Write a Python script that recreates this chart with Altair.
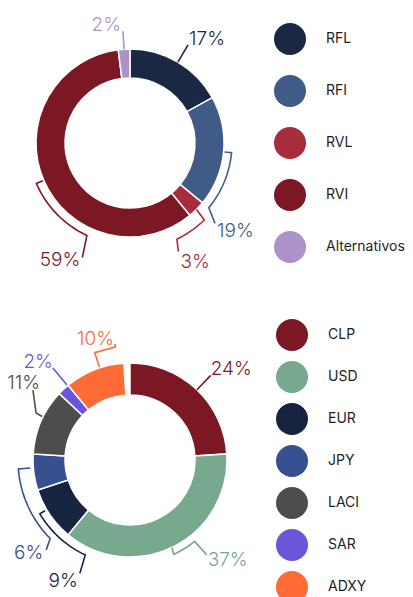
import math
import altair as alt
import pandas as pd

# ---------------- data ----------------
top_categories = ["RFL", "RFI", "RVL", "RVI", "Alternativos"]
top_values = [17, 19, 3, 59, 2]
top_colors = ["#1b2843", "#405b88", "#a72d3b", "#7b1823", "#ab92c8"]

bottom_categories = ["CLP", "USD", "EUR", "JPY", "LACI", "SAR", "ADXY"]
bottom_values = [24, 37, 9, 6, 11, 2, 10]
bottom_colors = ["#7b1823", "#76a98d", "#16243f", "#37508f", "#4d4d4d", "#6b55d8", "#ff6b37"]

# ---------------- layout ----------------
W, H, M = 397, 589, 8
FONT = "Inter"

TOP = dict(cx=130, cy=143, R=94, r=65,
           leg_x=290, leg_tx=326, leg_y0=39, leg_step=52, leg_fs=14)
BOT = dict(cx=130, cy=460, R=97, r=65,
           leg_x=292, leg_tx=328, leg_y0=335, leg_step=42, leg_fs=14)

# leader paths: list of (angle offset from mid-angle [deg], radius offset from R)
# plus label anchor style (align, baseline, dx, dy)
TOP_LEADERS = {
    "RFL": ([(0, 0), (0, 20)], "left", "alphabetic", 1, 0),
    "RFI": ([(0, 1), (0, 8), (34, 8), (38, 23)], "left", "top", 2, -1),
    "RVL": ([(0, 0), (1, 13), (19, 13), (21, 25)], "left", "top", 2, 1),
    "RVI": ([(0, 1), (0, 8), (-41.6, 8), (-44, 30)], "right", "middle", -2, 3),
    "Alternativos": ([(0, 0), (0, 18)], "right", "alphabetic", -2, 0),
}
BOT_LEADERS = {
    "CLP": ([(0, 0), (0, 20)], "left", "alphabetic", 0, 0),
    "USD": ([(0, 0), (0.5, 7), (-13, 7), (-13.5, 25)], "left", "middle", 1, 5),
    "EUR": ([(1, 2), (1, 8), (-33, 8), (-34.3, 27)], "right", "top", -2, -1),
    "JPY": ([(0, 3), (0, 15), (-40, 15), (-42.5, 26)], "right", "middle", -3, 3),
    "LACI": ([(0, 1), (0.2, 8), (9.4, 22.6)], "right", "alphabetic", 7, -1),
    "SAR": ([(0, 1), (0, 23)], "right", "alphabetic", 0, 0),
    "ADXY": ([(0, 1), (0, 16), (10.8, 17), (10.8, 20)], "right", "alphabetic", -1, 1),
}


def polar(cfg, ang, rad):
    a = math.radians(ang)
    return cfg["cx"] + rad * math.sin(a), cfg["cy"] - rad * math.cos(a)


def build(cats, vals, cols, cfg, leaders, key):
    total = float(sum(vals))
    arcs = pd.DataFrame({"cat": cats, "value": vals, "color": cols, "idx": range(len(cats))})
    line_rows, label_rows = [], []
    cum = 0.0
    for i, (c, v, col) in enumerate(zip(cats, vals, cols)):
        start = cum / total * 360
        cum += v
        end = cum / total * 360
        mid = (start + end) / 2
        pts, align, base, dx, dy = leaders[c]
        seq = []
        for j, (da, dr) in enumerate(pts):
            if j > 0 and dr == pts[j - 1][1] and da != pts[j - 1][0]:
                a0 = pts[j - 1][0]
                n = max(2, int(abs(da - a0) / 2))
                for k in range(1, n):
                    seq.append((a0 + (da - a0) * k / n, dr))
            seq.append((da, dr))
        for k, (da, dr) in enumerate(seq):
            x, y = polar(cfg, mid + da, cfg["R"] + dr)
            line_rows.append({"id": f"{key}-{c}", "k": k, "x": x, "y": y, "color": col})
        ex, ey = polar(cfg, mid + pts[-1][0], cfg["R"] + pts[-1][1])
        label_rows.append({"x": ex + dx, "y": ey + dy, "text": f"{v}%", "color": col,
                           "align": align, "base": base})
    legend = pd.DataFrame({
        "cat": cats, "color": cols,
        "x": [cfg["leg_x"]] * len(cats),
        "tx": [cfg["leg_tx"]] * len(cats),
        "y": [cfg["leg_y0"] + cfg["leg_step"] * i for i in range(len(cats))],
    })
    return arcs, pd.DataFrame(line_rows), pd.DataFrame(label_rows), legend


xs = alt.Scale(domain=[M, M + W], nice=False, zero=False)
ys = alt.Scale(domain=[M, M + H], reverse=True, nice=False, zero=False)

layers = []
for cats, vals, cols, cfg, leaders, key in [
    (top_categories, top_values, top_colors, TOP, TOP_LEADERS, "t"),
    (bottom_categories, bottom_values, bottom_colors, BOT, BOT_LEADERS, "b"),
]:
    arcs, lines, labels, legend = build(cats, vals, cols, cfg, leaders, key)
    layers.append(
        alt.Chart(arcs).mark_arc(radius=cfg["R"], radius2=cfg["r"], stroke="#ffffff",
                                 strokeWidth=1.5).encode(
            theta=alt.Theta("value:Q", stack=True),
            order=alt.Order("idx:Q"),
            color=alt.Color("color:N", scale=None),
            x=alt.value(cfg["cx"] - M),
            y=alt.value(cfg["cy"] - M),
        )
    )
    layers.append(
        alt.Chart(lines).mark_line(strokeWidth=1.6, strokeJoin="miter").encode(
            x=alt.X("x:Q", scale=xs, axis=None),
            y=alt.Y("y:Q", scale=ys, axis=None),
            detail="id:N",
            order="k:Q",
            color=alt.Color("color:N", scale=None),
        )
    )
    for (al, bs), grp in labels.groupby(["align", "base"]):
        layers.append(
            alt.Chart(grp.drop(columns=["align", "base"])).mark_text(
                align=al, baseline=bs, font=FONT, fontSize=19, fontWeight=300
            ).encode(
                x=alt.X("x:Q", scale=xs, axis=None),
                y=alt.Y("y:Q", scale=ys, axis=None),
                text="text:N",
                color=alt.Color("color:N", scale=None),
            )
        )
    layers.append(
        alt.Chart(legend).mark_point(filled=True, size=1024, opacity=1, shape="circle").encode(
            x=alt.X("x:Q", scale=xs, axis=None),
            y=alt.Y("y:Q", scale=ys, axis=None),
            color=alt.Color("color:N", scale=None),
        )
    )
    layers.append(
        alt.Chart(legend).mark_text(align="left", baseline="middle", font=FONT,
                                    fontSize=cfg["leg_fs"], color="#1e1e1e").encode(
            x=alt.X("tx:Q", scale=xs, axis=None),
            y=alt.Y("y:Q", scale=ys, axis=None),
            text="cat:N",
        )
    )

chart = alt.layer(*layers).properties(
    width=W, height=H, padding=0, autosize=alt.AutoSizeParams(type="none")
).configure_view(stroke=None)

chart.save("out.html", embed_options={"renderer": "svg", "actions": False})
